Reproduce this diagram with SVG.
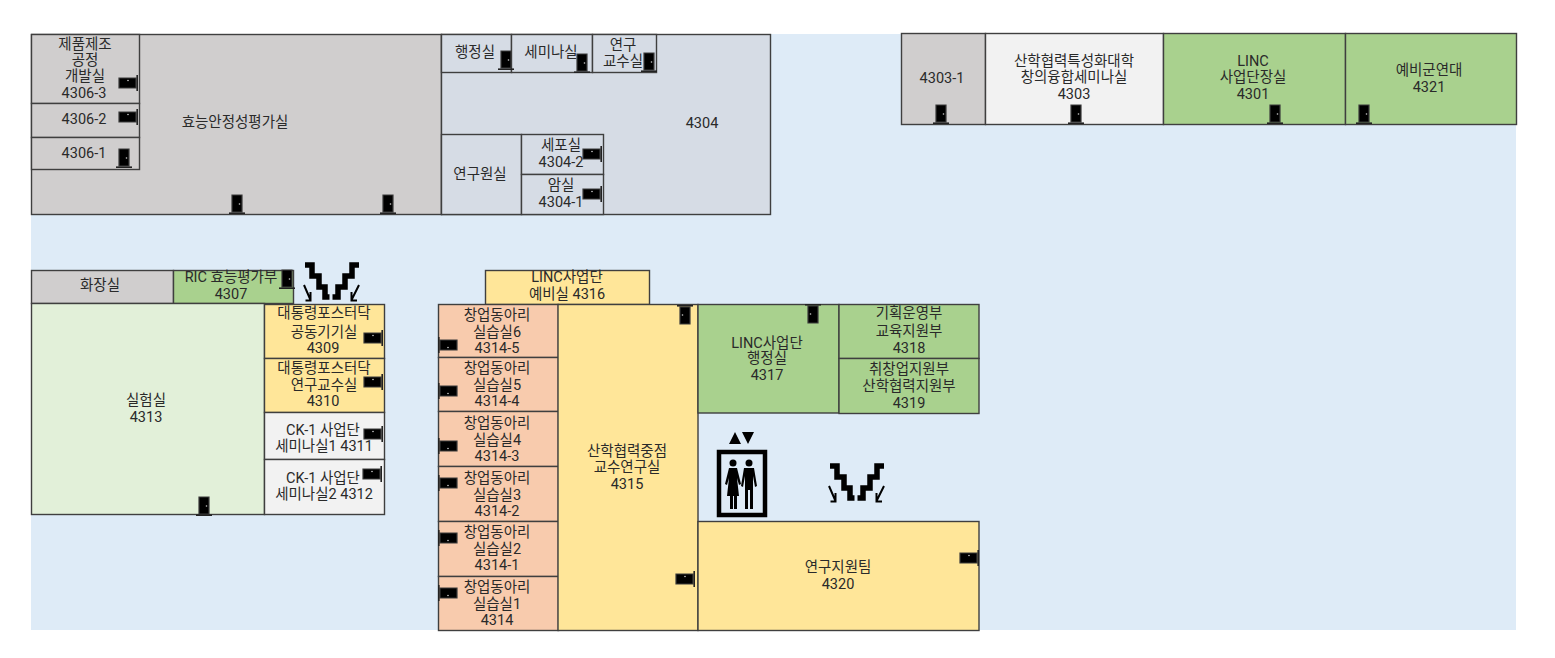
<svg xmlns="http://www.w3.org/2000/svg" width="1555" height="658" viewBox="0 0 1555 658">
<style>
text{font-family:Roboto,"Noto Sans CJK KR","Noto Sans",sans-serif;font-size:14.5px;fill:#2a2a2a;text-anchor:middle;transform:translateY(1px)}
.r{stroke:#3f3f3f;stroke-width:1.4}
.gray{fill:#d0cece}.blue{fill:#d6dce5}.white{fill:#f2f2f2}.green{fill:#a9d18e}.pale{fill:#e2f0d9}.yellow{fill:#ffe699}.peach{fill:#f8cbad}
</style>
<defs>
<symbol id="door" viewBox="0 0 16 20" width="16" height="20" overflow="visible">
<path d="M3 1H13V18H3Z" fill="#000" stroke="#3a3a3a" stroke-width="1.200"/>
<path d="M0 19.200H16" stroke="#222" stroke-width="1.600"/>
<circle cx="10.500" cy="10" r="0.800" fill="#ccc"/>
</symbol>
<g id="stairs" fill="none" stroke="#000">
<path stroke-width="5.500" d="M830 466H837V477H844V488H850V498H854.500"/>
<path stroke-width="5.500" d="M884 466H877V477H870V488H863V498H857.500"/>
<path stroke-width="2" d="M829 486L835.500 501M835.500 493V501.500H830.500"/>
<path stroke-width="2" d="M884 486L876.500 501M876.500 493V501.500H882"/>
</g>
</defs>
<rect width="1555" height="658" fill="#fff"/>
<rect x="31" y="34" width="1485" height="596" fill="#deebf7"/>

<g id="room-4306"><rect class="r gray" x="31.500" y="34.500" width="410" height="180"/><text x="235" y="126">효능안정성평가실</text></g>
<g id="room-4306-3"><rect class="r gray" x="31.500" y="34.500" width="108" height="69"/><text x="85" y="48">제품제조</text><text x="85" y="64">공정</text><text x="85" y="80">개발실</text><text x="84" y="97">4306-3</text></g>
<g id="room-4306-2"><rect class="r gray" x="31.500" y="103.500" width="108" height="34"/><text x="84" y="123">4306-2</text></g>
<g id="room-4306-1"><rect class="r gray" x="31.500" y="137.500" width="108" height="32"/><text x="84" y="157">4306-1</text></g>

<g id="room-4304"><rect class="r blue" x="441.500" y="34.500" width="329" height="180"/><text x="702" y="127">4304</text></g>
<g id="room-admin"><rect class="r blue" x="441.500" y="34.500" width="70" height="38"/><text x="475" y="56">행정실</text></g>
<g id="room-seminar"><rect class="r blue" x="511.500" y="34.500" width="81" height="38"/><text x="551" y="56">세미나실</text></g>
<g id="room-prof"><rect class="r blue" x="592.500" y="34.500" width="64" height="38"/><text x="623" y="49">연구</text><text x="623" y="65">교수실</text></g>
<g id="room-researcher"><rect class="r blue" x="441.500" y="134.500" width="80" height="80"/><text x="480" y="178">연구원실</text></g>
<g id="room-4304-2"><rect class="r blue" x="521.500" y="134.500" width="82" height="40"/><text x="561" y="149">세포실</text><text x="561" y="166">4304-2</text></g>
<g id="room-4304-1"><rect class="r blue" x="521.500" y="174.500" width="82" height="40"/><text x="561" y="189">암실</text><text x="561" y="206">4304-1</text></g>

<g id="room-4303-1"><rect class="r gray" x="901.500" y="33.500" width="84" height="91"/><text x="942" y="82">4303-1</text></g>
<g id="room-4303"><rect class="r white" x="985.500" y="33.500" width="178" height="91"/><text x="1074" y="65">산학협력특성화대학</text><text x="1074" y="81">창의융합세미나실</text><text x="1074" y="98">4303</text></g>
<g id="room-4301"><rect class="r green" x="1163.500" y="33.500" width="182" height="91"/><text x="1253" y="65">LINC</text><text x="1253" y="81">사업단장실</text><text x="1253" y="98">4301</text></g>
<g id="room-4321"><rect class="r green" x="1345.500" y="33.500" width="171" height="91"/><text x="1429" y="74">예비군연대</text><text x="1429" y="91">4321</text></g>

<g id="room-toilet"><rect class="r gray" x="31.500" y="270.500" width="142" height="33"/><text x="100" y="289">화장실</text></g>
<g id="room-4307"><rect class="r green" x="173.500" y="270.500" width="120" height="33"/><text x="231" y="281">RIC 효능평가부</text><text x="231" y="298">4307</text></g>
<g id="room-4313"><rect class="r pale" x="31.500" y="303.500" width="233" height="211"/><text x="146" y="404">실험실</text><text x="146" y="421">4313</text></g>
<g id="room-4309"><rect class="r yellow" x="264.500" y="304.500" width="120" height="54"/><text x="324" y="317">대통령포스터닥</text><text x="324" y="336">공동기기실</text><text x="323" y="352">4309</text></g>
<g id="room-4310"><rect class="r yellow" x="264.500" y="358.500" width="120" height="54"/><text x="324" y="372">대통령포스터닥</text><text x="324" y="389">연구교수실</text><text x="323" y="405">4310</text></g>
<g id="room-4311"><rect class="r white" x="264.500" y="412.500" width="120" height="47"/><text x="323" y="434">CK-1 사업단</text><text x="324" y="450">세미나실1 4311</text></g>
<g id="room-4312"><rect class="r white" x="264.500" y="459.500" width="120" height="55"/><text x="323" y="482">CK-1 사업단</text><text x="324" y="498">세미나실2 4312</text></g>

<g id="room-4316"><rect class="r yellow" x="485.500" y="270.500" width="164" height="34"/><text x="567" y="281">LINC사업단</text><text x="567" y="298">예비실 4316</text></g>
<g id="room-4314-5"><rect class="r peach" x="438.500" y="304.500" width="120" height="53"/><text x="497" y="319">창업동아리</text><text x="497" y="336">실습실6</text><text x="497" y="352">4314-5</text></g>
<g id="room-4314-4"><rect class="r peach" x="438.500" y="357.500" width="120" height="54"/><text x="497" y="372">창업동아리</text><text x="497" y="389">실습실5</text><text x="497" y="405">4314-4</text></g>
<g id="room-4314-3"><rect class="r peach" x="438.500" y="411.500" width="120" height="55"/><text x="497" y="427">창업동아리</text><text x="497" y="444">실습실4</text><text x="497" y="460">4314-3</text></g>
<g id="room-4314-2"><rect class="r peach" x="438.500" y="466.500" width="120" height="55"/><text x="497" y="482">창업동아리</text><text x="497" y="499">실습실3</text><text x="497" y="515">4314-2</text></g>
<g id="room-4314-1"><rect class="r peach" x="438.500" y="521.500" width="120" height="55"/><text x="497" y="536">창업동아리</text><text x="497" y="553">실습실2</text><text x="497" y="569">4314-1</text></g>
<g id="room-4314"><rect class="r peach" x="438.500" y="576.500" width="120" height="54"/><text x="497" y="591">창업동아리</text><text x="497" y="608">실습실1</text><text x="497" y="624">4314</text></g>
<g id="room-4315"><rect class="r yellow" x="558" y="304.500" width="140" height="326"/><text x="627" y="455">산학협력중점</text><text x="627" y="471">교수연구실</text><text x="627" y="488">4315</text></g>
<g id="room-4317"><rect class="r green" x="698" y="304.500" width="141" height="108.500"/><text x="767" y="347">LINC사업단</text><text x="767" y="362">행정실</text><text x="767" y="379">4317</text></g>
<g id="room-4318"><rect class="r green" x="839" y="304.500" width="140" height="54"/><text x="909" y="317">기획운영부</text><text x="909" y="335">교육지원부</text><text x="909" y="352">4318</text></g>
<g id="room-4319"><rect class="r green" x="839" y="358.500" width="140" height="55"/><text x="909" y="373">취창업지원부</text><text x="909" y="390">산학협력지원부</text><text x="909" y="407">4319</text></g>
<g id="room-4320"><rect class="r yellow" x="698" y="521.500" width="281" height="109"/><text x="838" y="571">연구지원팀</text><text x="838" y="588">4320</text></g>

<g id="doors">
<use href="#door" x="120" y="73" transform="rotate(-90 128 83)"/>
<use href="#door" x="120" y="107" transform="rotate(-90 128 117)"/>
<use href="#door" x="116" y="148"/>
<use href="#door" x="229" y="194"/>
<use href="#door" x="380" y="194"/>
<use href="#door" x="498" y="50"/>
<use href="#door" x="574" y="53"/>
<use href="#door" x="641" y="52"/>
<use href="#door" x="584" y="144" transform="rotate(-90 592 154)"/>
<use href="#door" x="584" y="184" transform="rotate(-90 592 194)"/>
<use href="#door" x="933" y="104"/>
<use href="#door" x="1068" y="104"/>
<use href="#door" x="1267" y="104"/>
<use href="#door" x="1356" y="104"/>
<use href="#door" x="279" y="269"/>
<use href="#door" x="365" y="328" transform="rotate(-90 373 338)"/>
<use href="#door" x="365" y="372" transform="rotate(-90 373 382)"/>
<use href="#door" x="365" y="424" transform="rotate(-90 373 434)"/>
<use href="#door" x="364" y="464" transform="rotate(-90 372 474)"/>
<use href="#door" x="196" y="496"/>
<use href="#door" x="677" y="305" transform="rotate(180 685 315)"/>
<use href="#door" x="805" y="304" transform="rotate(180 813 314)"/>
<use href="#door" x="440" y="335" transform="rotate(90 448 345)"/>
<use href="#door" x="440" y="381" transform="rotate(90 448 391)"/>
<use href="#door" x="440" y="436" transform="rotate(90 448 446)"/>
<use href="#door" x="440" y="473" transform="rotate(90 448 483)"/>
<use href="#door" x="440" y="528" transform="rotate(90 448 538)"/>
<use href="#door" x="440" y="583" transform="rotate(90 448 593)"/>
<use href="#door" x="677" y="569" transform="rotate(-90 685 579)"/>
<use href="#door" x="961" y="548" transform="rotate(-90 969 558)"/>
</g>

<g id="stairs-1"><use href="#stairs" transform="translate(-525 -201)"/></g>
<g id="stairs-2"><use href="#stairs"/></g>
<g id="elevator">
<path d="M735 432L741 444H729ZM742 432H754L748 444Z" fill="#000"/>
<rect x="719" y="452" width="46" height="63" fill="none" stroke="#000" stroke-width="4.500"/>
<g fill="#000">
<circle cx="733" cy="463" r="3.500"/><circle cx="749" cy="463" r="3.500"/>
<path d="M729 468H737L741 484L739 485L737 478L739 496H727L729 478L727 485L725 484Z"/>
<path d="M730 496H733V509H730ZM734 496H737V509H734Z"/>
<path d="M744 468H754L757 486L755 487L753 476V509H750V490H748V509H745V476L743 487L741 486Z"/>
</g>
</g>
</svg>
